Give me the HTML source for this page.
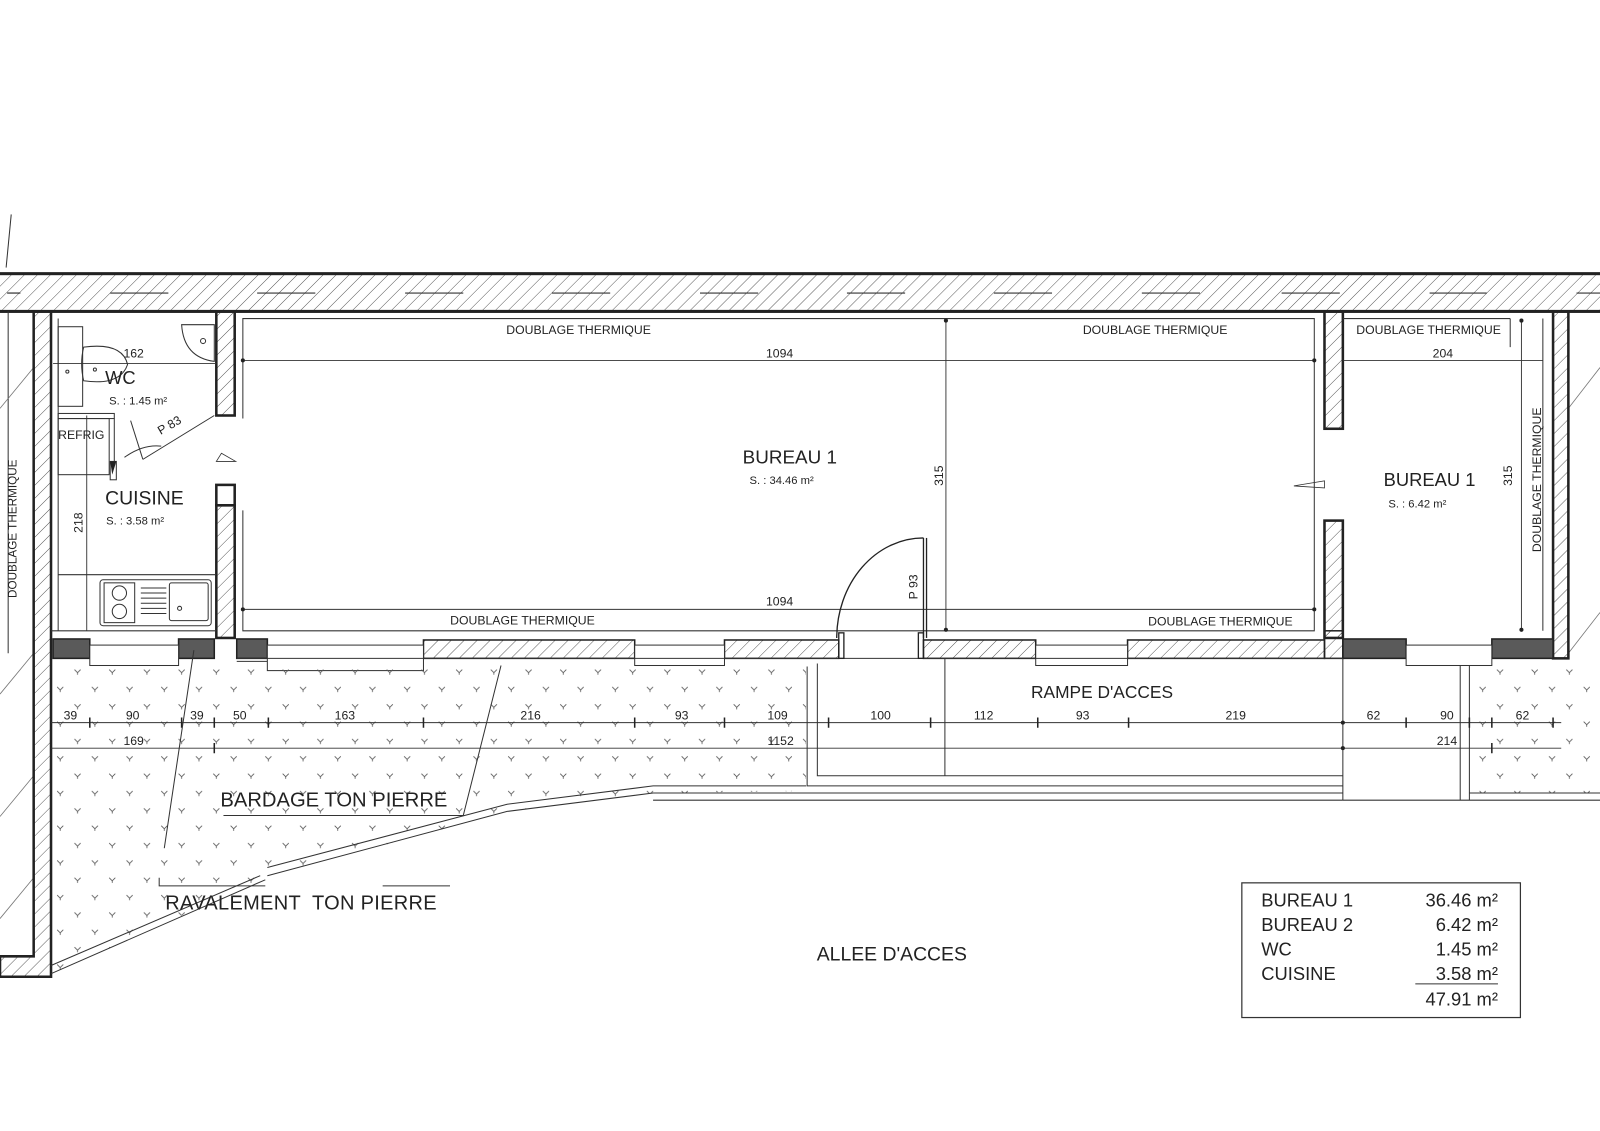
<!DOCTYPE html>
<html><head><meta charset="utf-8"><style>
html,body{margin:0;padding:0;background:#fff;}
svg{display:block;}
text{font-family:"Liberation Sans",sans-serif;fill:#222;}
</style></head><body>
<svg width="1600" height="1131" viewBox="0 0 1568 1108" xmlns="http://www.w3.org/2000/svg">
<defs>
<pattern id="h" width="9" height="9" patternUnits="userSpaceOnUse" patternTransform="rotate(45)">
<line x1="0" y1="0" x2="0" y2="9" stroke="#333" stroke-width="0.8"/></pattern>
<pattern id="g" width="34" height="34" patternUnits="userSpaceOnUse" x="0" y="650">
<path d="M5,6 L8,9 L11,6 M8,9 L8,11 M22,23 L25,26 L28,23 M25,26 L25,28" stroke="#555" stroke-width="0.8" fill="none"/></pattern>
<clipPath id="gl"><polygon points="50,645 790,645 790,775 640,777 497,795 260,860 50,955"/></clipPath>
</defs>

<line x1="11" y1="210" x2="6" y2="262" stroke="#333" stroke-width="1"/>

<rect x="-2" y="268" width="1572" height="37" fill="url(#h)" stroke="#222" stroke-width="3"/>
<g stroke="#333" stroke-width="1.2">
<line x1="7" y1="287" x2="20" y2="287"/><line x1="108" y1="287" x2="165" y2="287"/><line x1="252" y1="287" x2="309" y2="287"/>
<line x1="397" y1="287" x2="454" y2="287"/><line x1="541" y1="287" x2="598" y2="287"/><line x1="686" y1="287" x2="743" y2="287"/>
<line x1="830" y1="287" x2="887" y2="287"/><line x1="974" y1="287" x2="1031" y2="287"/><line x1="1119" y1="287" x2="1176" y2="287"/>
<line x1="1256" y1="287" x2="1313" y2="287"/><line x1="1401" y1="287" x2="1457" y2="287"/><line x1="1545" y1="287" x2="1568" y2="287"/>
</g>

<line x1="8" y1="305" x2="8" y2="640" stroke="#333" stroke-width="1"/>
<g stroke="#777" stroke-width="0.8">
<line x1="0" y1="400" x2="33" y2="360"/><line x1="0" y1="680" x2="33" y2="640"/><line x1="0" y1="800" x2="33" y2="760"/><line x1="0" y1="900" x2="33" y2="860"/>
<line x1="1537" y1="400" x2="1568" y2="360"/><line x1="1537" y1="640" x2="1568" y2="600"/>
</g>
<text transform="translate(16,518) rotate(-90)" text-anchor="middle" font-size="11.5">DOUBLAGE THERMIQUE</text>

<path d="M33,305 L50,305 L50,957 L0,957 L0,937 L33,937 Z" fill="url(#h)" stroke="#222" stroke-width="2.5"/>

<rect x="212" y="305" width="18" height="102" fill="url(#h)" stroke="#222" stroke-width="2.5"/>
<rect x="212" y="475" width="18" height="20" fill="#fff" stroke="#222" stroke-width="2.5"/>
<rect x="212" y="495" width="18" height="130" fill="url(#h)" stroke="#222" stroke-width="2.5"/>
<polygon points="217,444 231,452 212,452" fill="none" stroke="#333" stroke-width="0.8"/>

<rect x="1298" y="305" width="18" height="115" fill="url(#h)" stroke="#222" stroke-width="2.5"/>
<rect x="1298" y="510" width="18" height="115" fill="url(#h)" stroke="#222" stroke-width="2.5"/>
<polygon points="1268,476 1298,471 1298,478" fill="none" stroke="#333" stroke-width="0.8"/>

<rect x="1522" y="305" width="15" height="340" fill="url(#h)" stroke="#222" stroke-width="2.5"/>

<g stroke="#333" stroke-width="1" fill="none">
<polyline points="238,410 238,312 1288,312 1288,618 238,618 238,500"/>
<polyline points="1316,312 1480,312"/>
<line x1="1512" y1="312" x2="1512" y2="618"/>
<line x1="1480" y1="312" x2="1480" y2="340"/>
<line x1="57" y1="312" x2="57" y2="618"/>
</g>

<g stroke="#333" stroke-width="0.9">
<line x1="238" y1="353" x2="1288" y2="353"/>
<line x1="238" y1="597" x2="1288" y2="597"/>
<line x1="927" y1="312" x2="927" y2="618"/>
<line x1="1316" y1="353" x2="1512" y2="353"/>
<line x1="1491" y1="312" x2="1491" y2="618"/>
<line x1="85" y1="407" x2="85" y2="618"/>
<line x1="52" y1="356" x2="212" y2="356"/>
</g>
<g fill="#222">
<circle cx="238" cy="353" r="2"/><circle cx="1288" cy="353" r="2"/><circle cx="238" cy="597" r="2"/><circle cx="1288" cy="597" r="2"/>
<circle cx="927" cy="314" r="2"/><circle cx="927" cy="617" r="2"/><circle cx="1491" cy="314" r="2"/><circle cx="1491" cy="617" r="2"/>
</g>

<g stroke="#333" stroke-width="1" fill="none">
<rect x="57" y="320" width="24" height="78"/>
<path d="M82,340 Q120,335 125,357 Q118,378 82,373 Q78,356 82,340 Z"/>
<circle cx="66" cy="364" r="1.5"/><circle cx="93" cy="362" r="1.5"/>
<path d="M178,318 L210,318 L210,354 Q180,350 178,318 Z"/>
<circle cx="199" cy="334" r="2.5"/>
<rect x="57" y="405" width="55" height="5"/>
<rect x="57" y="410" width="50" height="55"/>
<line x1="112" y1="410" x2="112" y2="455"/>
<path d="M128,412 L140,450"/>
<path d="M122,448 Q140,435 158,437"/>
<path d="M140,450 L210,407"/>
<rect x="108" y="452" width="6" height="18"/>
</g>
<polygon points="108,452 114,452 110,465" fill="#222"/>

<g stroke="#333" stroke-width="1" fill="none">
<line x1="57" y1="563" x2="212" y2="563"/>
<rect x="98" y="568" width="109" height="45" rx="3"/>
<rect x="102" y="571" width="30" height="39"/>
<circle cx="117" cy="581" r="7"/><circle cx="117" cy="599" r="7"/>
<rect x="166" y="571" width="38" height="37" rx="2"/>
<circle cx="176" cy="596" r="2"/>
<path d="M138,576 h25 M138,581 h25 M138,586 h25 M138,591 h25 M138,596 h25 M138,601 h25"/>
</g>

<line x1="50" y1="618" x2="212" y2="618" stroke="#333" stroke-width="1"/>
<g stroke="#222" stroke-width="1.5">
<rect x="52" y="626" width="36" height="19" fill="#5a5a5a"/>
<rect x="175" y="626" width="35" height="19" fill="#5a5a5a"/>
<rect x="232" y="626" width="30" height="19" fill="#5a5a5a"/>
<rect x="1316" y="626" width="62" height="19" fill="#5a5a5a"/>
<rect x="1462" y="626" width="60" height="19" fill="#5a5a5a"/>
<rect x="415" y="627" width="207" height="18" fill="url(#h)"/>
<rect x="710" y="627" width="112" height="18" fill="url(#h)"/>
<rect x="905" y="627" width="110" height="18" fill="url(#h)"/>
<rect x="1105" y="627" width="193" height="18" fill="url(#h)"/>
<rect x="1298" y="618" width="18" height="27" fill="url(#h)"/>
</g>
<g stroke="#333" stroke-width="1" fill="#fff">
<rect x="88" y="632" width="87" height="20"/>
<rect x="262" y="632" width="153" height="25"/>
<rect x="622" y="632" width="88" height="20"/>
<rect x="1015" y="632" width="90" height="20"/>
<rect x="1378" y="632" width="84" height="20"/>
<line x1="232" y1="645" x2="1316" y2="645"/>
<line x1="232" y1="648" x2="262" y2="648"/>
</g>
<g stroke="#222" stroke-width="1.3" fill="none">
<line x1="905" y1="527" x2="905" y2="625"/>
<line x1="908" y1="527" x2="908" y2="625"/>
<path d="M905,527 A85,98 0 0 0 820,625"/>
<rect x="822" y="620" width="5" height="25"/>
<rect x="900" y="620" width="5" height="25"/>
</g>

<rect x="50" y="645" width="740" height="320" fill="url(#g)" clip-path="url(#gl)"/>
<rect x="1440" y="645" width="128" height="132" fill="url(#g)"/>

<g stroke="#333" stroke-width="1" fill="none">
<polyline points="791,653 791,770 1316,770"/>
<polyline points="801,650 801,760 1316,760"/>
<line x1="926" y1="645" x2="926" y2="760"/>
<line x1="1316" y1="645" x2="1316" y2="784"/>
<line x1="1431" y1="652" x2="1431" y2="784"/>
<line x1="1440" y1="652" x2="1440" y2="784"/>
<polyline points="50,954 260,862"/>
<polyline points="50,946 255,858"/>
<polyline points="262,858 497,795 640,777 1316,777"/>
<polyline points="262,850 497,788 640,770 790,770"/>
<line x1="640" y1="784" x2="1316" y2="784"/>
<line x1="1440" y1="777" x2="1568" y2="777"/>
<line x1="1316" y1="784" x2="1568" y2="784"/>
</g>

<g stroke="#333" stroke-width="0.9">
<line x1="50" y1="708" x2="1530" y2="708"/>
<line x1="50" y1="733" x2="1530" y2="733"/>
</g>
<g stroke="#222" stroke-width="1.5">
<path d="M88,703v10 M178,703v10 M210,703v10 M263,703v10 M415,703v10 M622,703v10 M710,703v10 M812,703v10 M912,703v10 M1017,703v10 M1106,703v10 M1378,703v10 M1440,703v10 M1462,703v10 M1522,703v10"/>
<path d="M210,728v10 M1462,728v10"/>
</g>
<g fill="#222"><circle cx="1316" cy="708" r="2"/><circle cx="1316" cy="733" r="2"/></g>

<g stroke="#333" stroke-width="1" fill="none">
<line x1="190" y1="637" x2="161" y2="831"/>
<polyline points="491,652 454,799 219,799"/>
<polyline points="156,860 156,868 260,868"/>
<line x1="375" y1="868" x2="441" y2="868"/>
</g>

<g font-size="12">
<text x="567" y="327" text-anchor="middle">DOUBLAGE THERMIQUE</text>
<text x="1132" y="327" text-anchor="middle">DOUBLAGE THERMIQUE</text>
<text x="1400" y="327" text-anchor="middle">DOUBLAGE THERMIQUE</text>
<text x="512" y="612" text-anchor="middle">DOUBLAGE THERMIQUE</text>
<text x="1196" y="613" text-anchor="middle">DOUBLAGE THERMIQUE</text>
<text x="764" y="350" text-anchor="middle">1094</text>
<text x="764" y="593" text-anchor="middle">1094</text>
<text x="1414" y="350" text-anchor="middle">204</text>
<text x="131" y="350" text-anchor="middle">162</text>
<text x="57" y="430">REFRIG</text>
</g>
<g font-size="12">
<text transform="translate(924,466) rotate(-90)" text-anchor="middle">315</text>
<text transform="translate(1482,466) rotate(-90)" text-anchor="middle">315</text>
<text transform="translate(81,512) rotate(-90)" text-anchor="middle">218</text>
<text transform="translate(899,575) rotate(-90)" text-anchor="middle">P 93</text>
<text transform="translate(168,420) rotate(-30)" text-anchor="middle">P 83</text>
<text transform="translate(1510,470) rotate(-90)" text-anchor="middle">DOUBLAGE THERMIQUE</text>
</g>
<text x="103" y="376" font-size="18">WC</text>
<text x="107" y="396" font-size="11">S. : 1.45 m²</text>
<text x="103" y="494" font-size="19">CUISINE</text>
<text x="104" y="514" font-size="11">S. : 3.58 m²</text>
<text x="774" y="454" font-size="18.5" text-anchor="middle">BUREAU 1</text>
<text x="766" y="474" font-size="11" text-anchor="middle">S. : 34.46 m²</text>
<text x="1401" y="476" font-size="18" text-anchor="middle">BUREAU 1</text>
<text x="1389" y="497" font-size="11" text-anchor="middle">S. : 6.42 m²</text>
<text x="1080" y="684" font-size="17" text-anchor="middle">RAMPE D'ACCES</text>
<text x="216" y="790" font-size="19.8">BARDAGE TON PIERRE</text>
<text x="162" y="891" font-size="19.6" letter-spacing="0.3" xml:space="preserve">RAVALEMENT  TON PIERRE</text>
<text x="874" y="941" font-size="19" text-anchor="middle">ALLEE D'ACCES</text>

<g font-size="12" text-anchor="middle">
<text x="69" y="705">39</text><text x="130" y="705">90</text><text x="193" y="705">39</text><text x="235" y="705">50</text>
<text x="338" y="705">163</text><text x="520" y="705">216</text><text x="668" y="705">93</text><text x="762" y="705">109</text>
<text x="863" y="705">100</text><text x="964" y="705">112</text><text x="1061" y="705">93</text><text x="1211" y="705">219</text>
<text x="1346" y="705">62</text><text x="1418" y="705">90</text><text x="1492" y="705">62</text>
<text x="131" y="730">169</text><text x="765" y="730">1152</text><text x="1418" y="730">214</text>
</g>

<rect x="1217" y="865" width="273" height="132" fill="none" stroke="#333" stroke-width="1.2"/>
<g font-size="18">
<text x="1236" y="888">BUREAU 1</text>
<text x="1236" y="912">BUREAU 2</text>
<text x="1236" y="936">WC</text>
<text x="1236" y="960">CUISINE</text>
</g>
<g font-size="18" text-anchor="end">
<text x="1468" y="888">36.46 m²</text>
<text x="1468" y="912">6.42 m²</text>
<text x="1468" y="936">1.45 m²</text>
<text x="1468" y="960">3.58 m²</text>
<text x="1468" y="985">47.91 m²</text>
</g>
<line x1="1387" y1="964" x2="1468" y2="964" stroke="#333" stroke-width="1"/>
</svg>
</body></html>
